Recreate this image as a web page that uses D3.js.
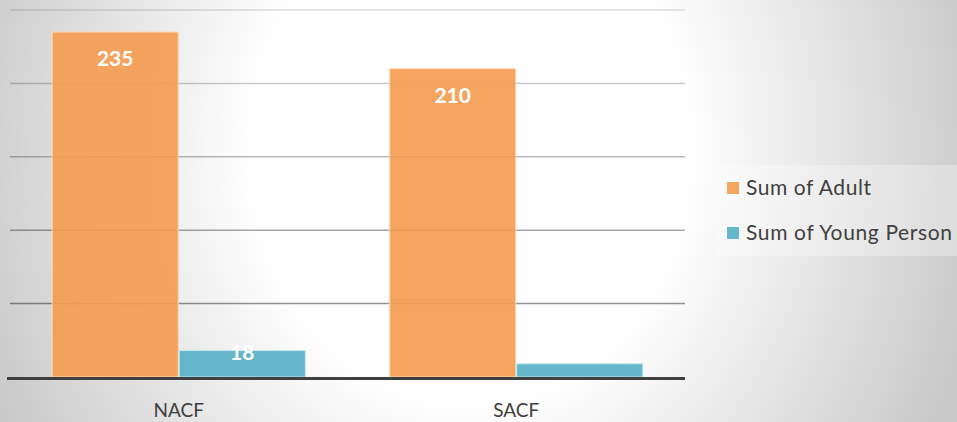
<!DOCTYPE html>
<html>
<head>
<meta charset="utf-8">
<script src="https://cdn.jsdelivr.net/npm/d3@7"></script>
<style>
html,body{margin:0;padding:0;background:#fff;}
svg{display:block;}
</style>
</head>
<body>
<svg id="chart" width="957" height="422"></svg>
<script>
const categories = ["NACF", "SACF"];
const seriesNames = ["Sum of Adult", "Sum of Young Person"];
const adultValues = [235, 210];
const youngValues = [18, 9];
const adultLabels = ["235", "210"];
const youngLabels = ["18", ""];
const gridTicks = [50, 100, 150, 200, 250];
const colors = ["#f59b4f", "#55afc6"];
const strokeColors = ["#fdd9b6", "#c2e6ef"];

const W = 957, H = 422;
const svg = d3.select("#chart");
const defs = svg.append("defs");
const rg = defs.append("radialGradient")
  .attr("id", "bg")
  .attr("gradientUnits", "userSpaceOnUse")
  .attr("cx", 0).attr("cy", 0).attr("r", 1)
  .attr("gradientTransform", "translate(470,150) scale(520,600)");
rg.append("stop").attr("offset", 0).attr("stop-color", "#ffffff");
rg.append("stop").attr("offset", 0.42).attr("stop-color", "#ffffff");
rg.append("stop").attr("offset", 1).attr("stop-color", "#c9c9c9");

svg.append("rect").attr("width", W).attr("height", H).attr("fill", "url(#bg)");

const plotL = 10, plotR = 685;
const x0 = d3.scaleBand().domain(categories).range([plotL, plotR])
  .paddingInner(0.247).paddingOuter(0.1235);
const x1 = d3.scaleBand().domain(seriesNames).range([0, x0.bandwidth()]);
const y = d3.scaleLinear().domain([0, 250]).range([377, 10]);
const gridOpacity = d3.scaleLinear().domain([50, 250]).range([0.42, 0.13]);

// gridlines
svg.append("g").selectAll("line").data(gridTicks).join("line")
  .attr("x1", plotL).attr("x2", plotR)
  .attr("y1", d => y(d)).attr("y2", d => y(d))
  .attr("stroke", "#000").attr("stroke-opacity", d => gridOpacity(d))
  .attr("stroke-width", 1.5);

const rows = categories.map((c, i) => ({
  cat: c,
  vals: [
    {s: seriesNames[0], v: adultValues[i], lab: adultLabels[i], k: 0},
    {s: seriesNames[1], v: youngValues[i], lab: youngLabels[i], k: 1}
  ]
}));

const groups = svg.append("g").selectAll("g").data(rows).join("g")
  .attr("transform", d => `translate(${x0(d.cat)},0)`);

groups.selectAll("rect").data(d => d.vals).join("rect")
  .attr("x", d => x1(d.s) + 0.5)
  .attr("width", x1.bandwidth() - 1)
  .attr("y", d => y(d.v))
  .attr("height", d => y(0) - y(d.v))
  .attr("fill", d => colors[d.k])
  .attr("fill-opacity", 0.9)
  .attr("stroke", d => strokeColors[d.k])
  .attr("stroke-width", 1);

groups.selectAll("text").data(d => d.vals.filter(v => v.lab)).join("text")
  .attr("x", d => x1(d.s) + x1.bandwidth() / 2)
  .attr("y", d => Math.min(y(d.v) + 34, y(0) - 17))
  .attr("text-anchor", "middle")
  .attr("font-family", "Lato, 'Open Sans', sans-serif")
  .attr("font-weight", "bold")
  .attr("font-size", 21)
  .attr("fill", "#ffffff")
  .text(d => d.lab);

// baseline axis
const xAxis = d3.axisBottom(x0).tickSize(0).tickPadding(0);
const axisG = svg.append("g").attr("transform", `translate(0,${y(0) + 1.5})`).call(xAxis);
axisG.select(".domain").attr("d", `M7,0H${plotR}`).attr("stroke", "#404040").attr("stroke-width", 3);
axisG.selectAll("text")
  .attr("dy", null)
  .attr("y", 38.5)
  .attr("font-family", "Lato, 'Open Sans', sans-serif")
  .attr("font-size", 19)
  .attr("fill", "#404040");

// legend
const legendWidths = [125, 206];
const leg = svg.append("g");
leg.append("rect").attr("x", 715).attr("y", 165).attr("width", 250).attr("height", 91)
  .attr("fill", "#ffffff").attr("fill-opacity", 0.3);
const li = leg.selectAll("g").data(seriesNames).join("g")
  .attr("transform", (d, i) => `translate(727,${182 + i * 45})`);
li.append("rect").attr("width", 12).attr("height", 12)
  .attr("fill", (d, i) => colors[i]).attr("fill-opacity", 0.9);
li.append("text").attr("x", 19).attr("y", 13)
  .attr("font-family", "Lato, 'Open Sans', sans-serif")
  .attr("font-size", 21)
  .attr("fill", "#404040")
  .attr("textLength", (d, i) => legendWidths[i])
  .attr("lengthAdjust", "spacing")
  .text(d => d);
</script>
</body>
</html>
